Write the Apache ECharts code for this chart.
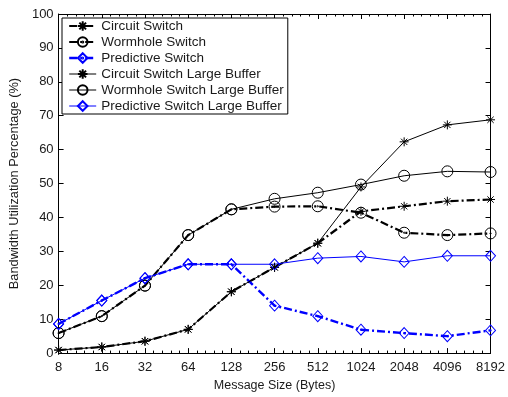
<!DOCTYPE html>
<html>
<head>
<meta charset="utf-8">
<script src="https://cdn.jsdelivr.net/npm/echarts@6/dist/echarts.min.js"></script>
<style>
  html, body { margin: 0; padding: 0; background: #fff; }
  #chart { width: 508px; height: 397px; }
</style>
</head>
<body>
<div id="chart"></div>
<script>
// Message sizes in bytes, plotted at evenly spaced positions
const messageSizes = [8, 16, 32, 64, 128, 256, 512, 1024, 2048, 4096, 8192];

// Bandwidth utilisation (%) per message size
const circuitSwitch     = [0.9, 1.8, 3.5, 7.0, 18.1, 25.3, 32.4, 41.8, 43.3, 44.8, 45.3];
const wormholeSwitch    = [5.9, 10.9, 19.9, 34.8, 42.4, 43.2, 43.3, 41.4, 35.5, 34.8, 35.3];
const predictiveSwitch  = [8.6, 15.5, 22.1, 26.2, 26.2, 14.0, 10.9, 6.9, 5.9, 5.0, 6.7];
const circuitLarge      = [0.9, 1.8, 3.5, 7.0, 18.1, 25.3, 32.4, 49.0, 62.3, 67.3, 68.8];
const wormholeLarge     = [5.9, 10.9, 19.9, 34.8, 42.4, 45.5, 47.3, 49.7, 52.3, 53.6, 53.4];
const predictiveLarge   = [8.6, 15.5, 22.1, 26.2, 26.2, 26.2, 28.0, 28.5, 26.9, 28.7, 28.7];

const yTicks = [0, 10, 20, 30, 40, 50, 60, 70, 80, 90, 100];

// Marker shapes (stroked outlines)
const STAR = 'path://M0,-1L0,1M-1,0L1,0M-0.7,-0.7L0.7,0.7M-0.7,0.7L0.7,-0.7';
const CIRCLE = 'path://M-1,0A1,1,0,1,0,1,0A1,1,0,1,0,-1,0Z';
const DOT = 'M-0.12,0A0.12,0.12,0,1,0,0.12,0A0.12,0.12,0,1,0,-0.12,0Z';
const CIRCLE_DOT = CIRCLE + DOT;
const DIAMOND = 'path://M0,-1L1,0L0,1L-1,0Z';
const DIAMOND_DOT = DIAMOND + DOT;

const BLUE = '#0000ff';
const BLACK = '#000000';
const DASH_DOT = [8, 3, 2, 3];

function toPoints(values) {
  return values.map((v, i) => [i, v]);
}

function makeSeries(name, values, color, width, dashed, symbol, size) {
  return {
    name: name,
    type: 'line',
    data: toPoints(values),
    symbol: symbol,
    symbolSize: size,
    showSymbol: true,
    animation: false,
    lineStyle: { color: color, width: width, type: dashed ? DASH_DOT : 'solid' },
    itemStyle: { color: 'rgba(0,0,0,0)', borderColor: color, borderWidth: 1 },
    emphasis: { disabled: true },
    z: 2
  };
}

const series = [
  makeSeries('Circuit Switch', circuitSwitch, BLACK, 2.2, true, STAR, [9, 9]),
  makeSeries('Wormhole Switch', wormholeSwitch, BLACK, 2.2, true, CIRCLE_DOT, [11, 11]),
  makeSeries('Predictive Switch', predictiveSwitch, BLUE, 2.4, true, DIAMOND_DOT, [10, 11]),
  makeSeries('Circuit Switch Large Buffer', circuitLarge, BLACK, 1, false, STAR, [9, 9]),
  makeSeries('Wormhole Switch Large Buffer', wormholeLarge, BLACK, 1, false, CIRCLE, [11, 11]),
  makeSeries('Predictive Switch Large Buffer', predictiveLarge, BLUE, 1, false, DIAMOND, [10, 11])
];

const FONT = 'Liberation Sans, Arial, Helvetica, sans-serif';
const TEXT = '#1a1a1a';

function xAxisDef(pos, withLabels) {
  return {
    type: 'value',
    position: pos,
    min: 0,
    max: messageSizes.length - 1,
    interval: 1,
    axisLine: { show: true, onZero: false, lineStyle: { color: BLACK, width: 1 } },
    axisTick: { show: true, inside: true, length: 5, lineStyle: { color: BLACK } },
    minorTick: { show: true, splitNumber: 5, length: 2.5, lineStyle: { color: BLACK } },
    splitLine: { show: false },
    axisLabel: {
      show: withLabels,
      margin: 8,
      color: TEXT,
      fontFamily: FONT,
      fontSize: 13,
      formatter: v => String(messageSizes[Math.round(v)])
    },
    name: withLabels ? 'Message Size (Bytes)' : '',
    nameLocation: 'middle',
    nameGap: 25,
    nameTextStyle: { color: TEXT, fontFamily: FONT, fontSize: 12.5 }
  };
}

function yAxisDef(pos, withLabels) {
  return {
    type: 'value',
    position: pos,
    min: yTicks[0],
    max: yTicks[yTicks.length - 1],
    interval: yTicks[1] - yTicks[0],
    axisLine: { show: true, onZero: false, lineStyle: { color: BLACK, width: 1 } },
    axisTick: { show: true, inside: true, length: 5, lineStyle: { color: BLACK } },
    splitLine: { show: false },
    axisLabel: {
      show: withLabels,
      margin: 5,
      color: TEXT,
      fontFamily: FONT,
      fontSize: 13
    },
    name: withLabels ? 'Bandwidth Utilization Percentage (%)' : '',
    nameLocation: 'middle',
    nameGap: 27,
    nameRotate: 90,
    nameTextStyle: { color: TEXT, fontFamily: FONT, fontSize: 12.8 }
  };
}

// Legend entries carry each series' own line width and dash
const legendData = series.map(s => ({
  name: s.name,
  lineStyle: { width: s.lineStyle.width, type: s.lineStyle.type, color: s.lineStyle.color }
}));

const chart = echarts.init(document.getElementById('chart'), null, { renderer: 'canvas' });
chart.setOption({
  backgroundColor: '#ffffff',
  animation: false,
  grid: { left: 57, right: 16, top: 14, bottom: 42, containLabel: false },
  xAxis: [xAxisDef('bottom', true), xAxisDef('top', false)],
  yAxis: [yAxisDef('left', true), yAxisDef('right', false)],
  legend: {
    orient: 'vertical',
    left: 62,
    top: 18,
    backgroundColor: '#ffffff',
    borderColor: BLACK,
    borderWidth: 1,
    borderRadius: 0,
    padding: [1, 4, 1, 6],
    itemWidth: 27,
    itemHeight: 12,
    itemGap: 2,
    selectedMode: false,
    textStyle: { color: TEXT, fontFamily: FONT, fontSize: 13.5, lineHeight: 12 },
    data: legendData,
    z: 10
  },
  series: series
});
</script>
</body>
</html>
